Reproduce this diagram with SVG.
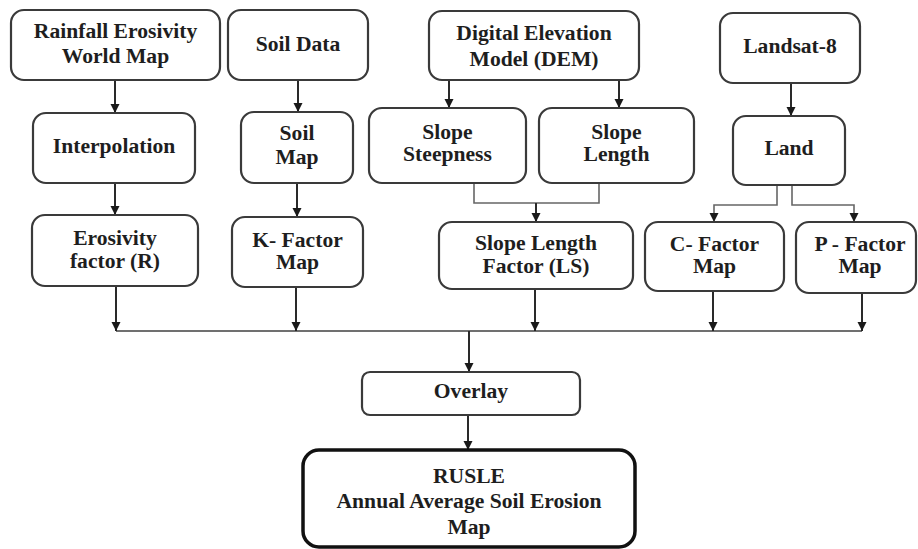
<svg xmlns="http://www.w3.org/2000/svg" width="918" height="549" viewBox="0 0 918 549">
<defs>
<style>
.box{fill:#fff;stroke:#3a3a3a;stroke-width:2.2}
.main{fill:#fff;stroke:#111;stroke-width:3.5}
.t{font-family:"Liberation Serif","Times New Roman",serif;font-weight:bold;font-size:21.6px;fill:#1e1e1e;text-anchor:middle}
.c{fill:none;stroke:#2a2a2a;stroke-width:2}
.g{fill:none;stroke:#666;stroke-width:1.6}
.bus{fill:none;stroke:#707070;stroke-width:2.2}
</style>
<marker id="ah" markerUnits="userSpaceOnUse" markerWidth="10" markerHeight="10" refX="9" refY="4.5" orient="auto" viewBox="0 0 10 9">
<path d="M0,0 L9,4.5 L0,9 z" fill="#1a1a1a"/>
</marker>
</defs>
<rect width="918" height="549" fill="#fff"/>
<g id="connectors">
<path class="c" d="M115,80 V113" marker-end="url(#ah)"/>
<path class="c" d="M115,183 V215" marker-end="url(#ah)"/>
<path class="c" d="M298,80 V112" marker-end="url(#ah)"/>
<path class="c" d="M297,183 V217" marker-end="url(#ah)"/>
<path class="c" d="M449,80 V108" marker-end="url(#ah)"/>
<path class="c" d="M619,80 V108" marker-end="url(#ah)"/>
<path class="g" d="M474,183 V203 H599 V183"/>
<path class="c" d="M536,203 V222" marker-end="url(#ah)"/>
<path class="c" d="M791,83 V116" marker-end="url(#ah)"/>
<path class="g" d="M777,185 V205 H714 V222" marker-end="url(#ah)"/>
<path class="g" d="M792,185 V205 H854 V222" marker-end="url(#ah)"/>
<path class="bus" d="M116,331 H862"/>
<path class="c" d="M116,286 V331" marker-end="url(#ah)"/>
<path class="c" d="M296,287 V331" marker-end="url(#ah)"/>
<path class="c" d="M535,289 V331" marker-end="url(#ah)"/>
<path class="c" d="M713,291 V331" marker-end="url(#ah)"/>
<path class="c" d="M862,293 V331" marker-end="url(#ah)"/>
<path class="c" d="M469,331 V372" stroke-width="2.4" marker-end="url(#ah)"/>
<path class="c" d="M468,415 V450" marker-end="url(#ah)"/>
</g>
<g id="rainfall"><rect class="box" x="11" y="10" width="209" height="70" rx="13"/><text class="t" x="115.5" y="38">Rainfall Erosivity</text><text class="t" x="115.5" y="63">World Map</text></g>
<g id="soildata"><rect class="box" x="228" y="10" width="140" height="70" rx="13"/><text class="t" x="298" y="51">Soil Data</text></g>
<g id="dem"><rect class="box" x="429" y="11" width="210" height="69" rx="13"/><text class="t" x="534" y="40">Digital Elevation</text><text class="t" x="534" y="66">Model (DEM)</text></g>
<g id="landsat"><rect class="box" x="720" y="13" width="140" height="70" rx="13"/><text class="t" x="790" y="53">Landsat-8</text></g>
<g id="interpolation"><rect class="box" x="33" y="113" width="162" height="70" rx="13"/><text class="t" x="114" y="153">Interpolation</text></g>
<g id="soilmap"><rect class="box" x="241" y="112" width="112" height="71" rx="13"/><text class="t" x="297" y="140">Soil</text><text class="t" x="297" y="164">Map</text></g>
<g id="steepness"><rect class="box" x="369" y="108" width="157" height="75" rx="13"/><text class="t" x="447.5" y="139">Slope</text><text class="t" x="447.5" y="161">Steepness</text></g>
<g id="slopelength"><rect class="box" x="539" y="108" width="155" height="75" rx="13"/><text class="t" x="616.5" y="139">Slope</text><text class="t" x="616.5" y="161">Length</text></g>
<g id="land"><rect class="box" x="733" y="116" width="112" height="69" rx="13"/><text class="t" x="789" y="155">Land</text></g>
<g id="rfactor"><rect class="box" x="32" y="215" width="166" height="71" rx="13"/><text class="t" x="115" y="245">Erosivity</text><text class="t" x="115" y="268">factor (R)</text></g>
<g id="kfactor"><rect class="box" x="232" y="217" width="131" height="70" rx="13"/><text class="t" x="297.5" y="247">K- Factor</text><text class="t" x="297.5" y="269">Map</text></g>
<g id="lsfactor"><rect class="box" x="439" y="222" width="194" height="67" rx="13"/><text class="t" x="536" y="250">Slope Length</text><text class="t" x="536" y="273">Factor (LS)</text></g>
<g id="cfactor"><rect class="box" x="645" y="222" width="139" height="69" rx="13"/><text class="t" x="714.5" y="251">C- Factor</text><text class="t" x="714.5" y="273">Map</text></g>
<g id="pfactor"><rect class="box" x="796" y="222" width="120" height="71" rx="13"/><text class="t" x="860" y="251">P - Factor</text><text class="t" x="860" y="273">Map</text></g>
<g id="overlay"><rect class="box" x="362" y="372" width="218" height="43" rx="8"/><text class="t" x="471" y="398">Overlay</text></g>
<g id="rusle"><rect class="main" x="303" y="450" width="332" height="97" rx="16"/><text class="t" x="469" y="483">RUSLE</text><text class="t" x="469" y="508">Annual Average Soil Erosion</text><text class="t" x="469" y="534">Map</text></g>
</svg>
